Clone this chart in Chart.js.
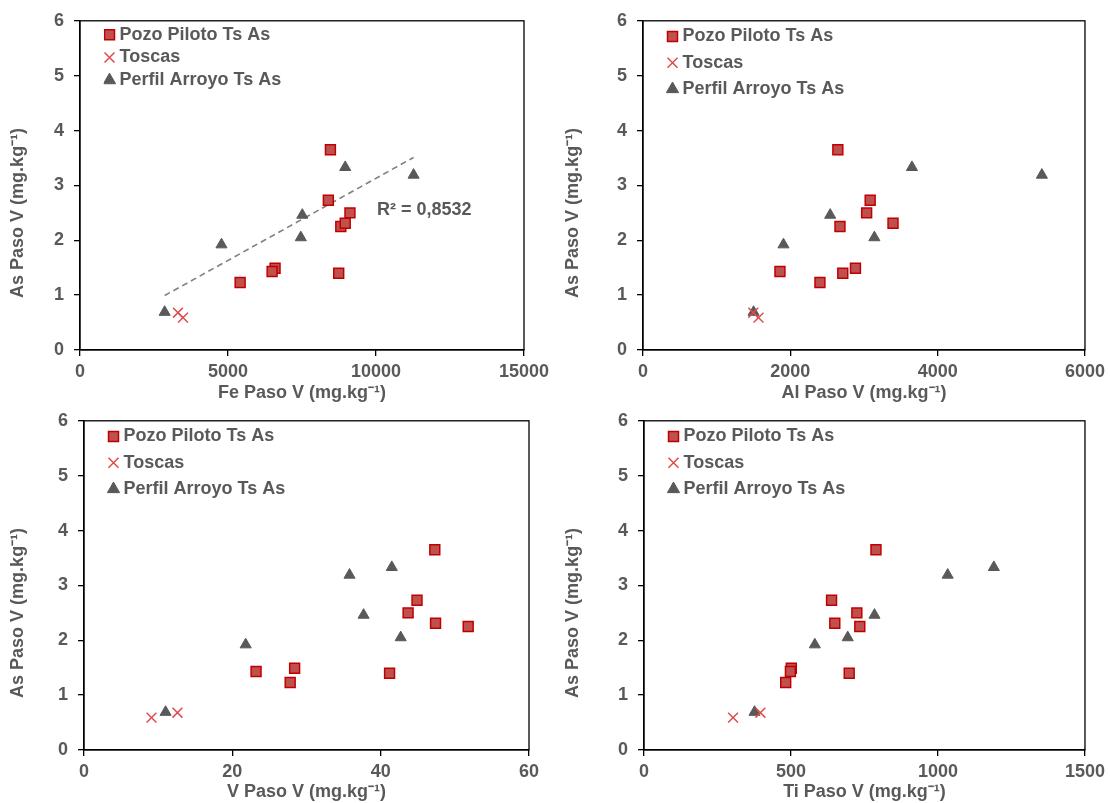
<!DOCTYPE html>
<html><head><meta charset="utf-8">
<script src="https://cdn.jsdelivr.net/npm/chart.js@4.4.1/dist/chart.umd.min.js"></script>
<style>
html,body{margin:0;padding:0;background:#fff;width:1110px;height:803px;overflow:hidden;}
.box{position:absolute;}
</style></head><body>
<div class="box" style="left:0;top:0;width:555px;height:410px"><canvas id="c1"></canvas></div>
<div class="box" style="left:555px;top:0;width:555px;height:410px"><canvas id="c2"></canvas></div>
<div class="box" style="left:0;top:400px;width:555px;height:403px"><canvas id="c3"></canvas></div>
<div class="box" style="left:555px;top:400px;width:555px;height:403px"><canvas id="c4"></canvas></div>
<script>
// ---- data ----
const seriesNames = ['Pozo Piloto Ts As', 'Toscas', 'Perfil Arroyo Ts As'];

const asPozo   = [3.65, 2.73, 2.50, 2.25, 2.31, 1.49, 1.43, 1.23, 1.40];
const asToscas = [0.68, 0.59];
const asPerfil = [3.33, 3.19, 2.46, 2.05, 1.92, 0.69];

const fePozo   = [8460, 8390, 9120, 8810, 8960, 6590, 6490, 5410, 8740];
const feToscas = [3310, 3480];
const fePerfil = [8960, 11270, 7510, 7460, 4780, 2860];

const alPozo   = [2645, 3084, 3036, 2674, 3394, 2884, 1859, 2402, 2712];
const alToscas = [1497, 1568];
const alPerfil = [3651, 5415, 2541, 3141, 1907, 1501];

const vPozo    = [47.3, 44.9, 43.7, 51.8, 47.4, 28.4, 23.2, 27.8, 41.2];
const vToscas  = [12.6, 9.1];
const vPerfil  = [41.5, 35.8, 37.7, 42.7, 21.8, 11.0];

const tiPozo   = [789, 638, 724, 734, 649, 501, 498, 482, 698];
const tiToscas = [396, 303];
const tiPerfil = [1190, 1033, 784, 693, 581, 376];

const yTitle  = 'As Paso V (mg.kg⁻¹)';
const xTitles = ['Fe Paso V (mg.kg⁻¹)', 'Al Paso V (mg.kg⁻¹)', 'V Paso V (mg.kg⁻¹)', 'Ti Paso V (mg.kg⁻¹)'];
const xMaxes  = [15000, 6000, 60, 1500];
const xSteps  = [5000, 2000, 20, 500];
const yMax = 6, yStep = 1;
const r2Text = 'R² = 0,8532';

// ---- style ----
const FONT = "'Liberation Sans', Arial, sans-serif";
const TXT = '#595959';

const pts = (xs, ys) => xs.map((x, i) => ({x: x, y: ys[i]}));

function fitLine(xs, ys) {
  const n = xs.length;
  const mx = xs.reduce((a, b) => a + b, 0) / n;
  const my = ys.reduce((a, b) => a + b, 0) / n;
  let sxy = 0, sxx = 0;
  for (let i = 0; i < n; i++) { sxy += (xs[i] - mx) * (ys[i] - my); sxx += (xs[i] - mx) ** 2; }
  const b = sxy / sxx, a = my - b * mx;
  const x0 = Math.min(...xs), x1 = Math.max(...xs);
  return [{x: x0, y: a + b * x0}, {x: x1, y: a + b * x1}];
}

const frame = {
  id: 'frame',
  beforeDatasetsDraw(chart) {
    const {ctx, chartArea: a} = chart;
    ctx.save();
    ctx.strokeStyle = '#000';
    ctx.lineWidth = 1.3;
    ctx.strokeRect(a.left, a.top, a.right - a.left, a.bottom - a.top);
    ctx.restore();
  }
};

const legendShift = {
  id: 'legendShift',
  afterLayout(chart, args, o) {
    const lg = chart.legend;
    if (!lg) return;
    const ca = chart.chartArea;
    lg.left = ca.left + o.dx; lg.top = ca.top + o.dy;
    lg.right = lg.left + lg.width; lg.bottom = lg.top + lg.height;
  }
};

const r2Label = {
  id: 'r2Label',
  afterDatasetsDraw(chart, args, o) {
    if (!o.text) return;
    const {ctx, scales} = chart;
    ctx.save();
    ctx.font = 'bold 18px ' + FONT;
    ctx.fillStyle = TXT;
    ctx.textAlign = 'left';
    ctx.textBaseline = 'middle';
    ctx.fillText(o.text, scales.x.getPixelForValue(o.x), scales.y.getPixelForValue(o.y));
    ctx.restore();
  }
};

function makeChart(id, idx, xs, area, legendCfg, trend, r2) {
  const datasets = [
    {label: seriesNames[0], data: pts(xs[0], asPozo), pointStyle: 'rect', pointRadius: 7, pointHoverRadius: 7,
     backgroundColor: '#C0504D', borderColor: '#C00000', borderWidth: 1.5},
    {label: seriesNames[1], data: pts(xs[1], asToscas), pointStyle: 'crossRot', pointRadius: 7, pointHoverRadius: 7,
     backgroundColor: '#E04B4B', borderColor: '#E04B4B', borderWidth: 1.5},
    {label: seriesNames[2], data: pts(xs[2], asPerfil), pointStyle: 'triangle', pointRadius: 6.4, pointHoverRadius: 6.4,
     backgroundColor: '#595959', borderColor: '#595959', borderWidth: 1}
  ];
  if (trend) {
    datasets.push({label: 'Lineal (' + seriesNames[2] + ')', data: fitLine(xs[2], asPerfil), showLine: true,
      pointRadius: 0, borderColor: '#808080', borderWidth: 1.6, borderDash: [6, 4], fill: false});
  }
  const tickFont = {family: FONT, size: 18, weight: 'bold'};
  return new Chart(document.getElementById(id), {
    type: 'scatter',
    data: {datasets},
    options: {
      responsive: true, maintainAspectRatio: false, animation: false, devicePixelRatio: 1, events: [],
      layout: {padding: {left: 0, top: area.T, right: 555 - area.R, bottom: 0}},
      plugins: {
        tooltip: {enabled: false},
        legend: {
          position: 'chartArea', align: 'start',
          labels: {usePointStyle: true, boxHeight: 10, boxWidth: 2, padding: legendCfg.P, color: TXT,
                   font: {family: FONT, size: 18, weight: 'bold'},
                   filter: (item) => item.datasetIndex < 3}
        },
        legendShift: {dx: 28.5 - legendCfg.P, dy: legendCfg.row - legendCfg.P - 9},
        r2Label: r2 || {}
      },
      scales: {
        x: {
          type: 'linear', position: 'bottom', min: 0, max: xMaxes[idx],
          ticks: {stepSize: xSteps[idx], color: TXT, font: tickFont, padding: 5, maxRotation: 0, autoSkip: false,
                  callback: (v) => String(v)},
          grid: {display: true, drawOnChartArea: false, drawTicks: true, tickLength: 6, color: '#000', lineWidth: 1.3},
          border: {display: true, color: '#000', width: 1.3},
          title: {display: true, text: xTitles[idx], color: TXT, font: tickFont, padding: {top: 0, bottom: area.xtp}},
          afterFit: (s) => { s.height = area.H - area.B; }
        },
        y: {
          type: 'linear', position: 'left', min: 0, max: yMax,
          ticks: {stepSize: yStep, color: TXT, font: tickFont, padding: 10, callback: (v) => String(v)},
          grid: {display: true, drawOnChartArea: false, drawTicks: true, tickLength: 6, color: '#000', lineWidth: 1.3},
          border: {display: true, color: '#000', width: 1.3},
          title: {display: true, text: yTitle + '           ', color: TXT, font: tickFont, padding: {top: 7, bottom: 0}},
          afterFit: (s) => { s.width = area.L; }
        }
      }
    },
    plugins: [frame, legendShift, r2Label]
  });
}

makeChart('c1', 0, [fePozo, feToscas, fePerfil], {L: 80, R: 524, T: 20, B: 350, H: 410, xtp: 6}, {P: 4.7, row: 14}, true,
          {text: r2Text, x: 10030, y: 2.56});
makeChart('c2', 1, [alPozo, alToscas, alPerfil], {L: 88, R: 533, T: 20, B: 350, H: 410, xtp: 6}, {P: 8.3, row: 15.7}, false, null);
makeChart('c3', 2, [vPozo, vToscas, vPerfil], {L: 84, R: 529, T: 20, B: 350, H: 403, xtp: 0}, {P: 8.3, row: 15.7}, false, null);
makeChart('c4', 3, [tiPozo, tiToscas, tiPerfil], {L: 89, R: 534, T: 20, B: 350, H: 403, xtp: 0}, {P: 8.3, row: 15.7}, false, null);
</script>
</body></html>
